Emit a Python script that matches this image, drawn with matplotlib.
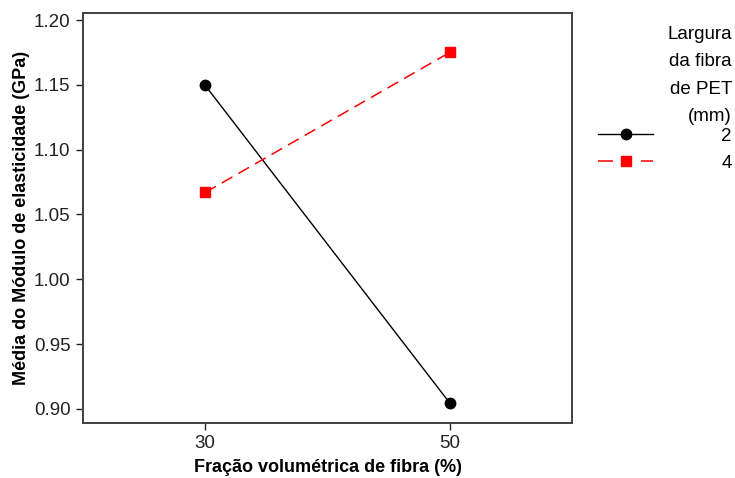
import matplotlib
matplotlib.use("Agg")
import matplotlib.pyplot as plt
from matplotlib.lines import Line2D

plt.rcParams['font.family'] = ['Liberation Sans', 'DejaVu Sans']

# Mean elastic modulus by fibre volume fraction and PET fibre width
fracao = [30, 50]
largura_labels = ["2", "4"]
media_2mm = [1.1495, 0.9046]
media_4mm = [1.0670, 1.1750]
yticks = [0.90, 0.95, 1.00, 1.05, 1.10, 1.15, 1.20]

fig = plt.figure(figsize=(7.35, 4.78), dpi=100)
ax = fig.add_axes([83 / 735, 55 / 478, (572 - 83) / 735, (423 - 13) / 478])

ax.plot(fracao, media_2mm, color="black", lw=1.0, marker="o", ms=7.5,
        label=largura_labels[0])
ax.plot(fracao, media_4mm, color="#ff0000", lw=1.1, marker="s", ms=6.5,
        dashes=(8, 4.5), label=largura_labels[1])

ax.set_xlim(20, 60)
ax.set_ylim(0.8892, 1.2054)
ax.set_xticks(fracao)
ax.set_xticklabels([str(v) for v in fracao])
ax.set_yticks(yticks)
ax.set_yticklabels([f"{v:.2f}" for v in yticks])
ax.tick_params(direction="out", length=5, width=1.0, labelsize=13.5,
               colors="#222222", pad=4)
for s in ax.spines.values():
    s.set_color("#404040")
    s.set_linewidth(1.4)

ax.set_xlabel("Fração volumétrica de fibra (%)", fontsize=13, fontweight="bold",
              labelpad=5)
ax.set_ylabel("Média do Módulo de elasticidade (GPa)", fontsize=13,
              fontweight="bold", labelpad=3)

handles = [
    Line2D([], [], color="black", lw=1.0, marker="o", ms=7.5),
    Line2D([], [], color="#ff0000", lw=1.1, marker="s", ms=6.5, dashes=(9.8, 18.3)),
]
leg = ax.legend(handles, largura_labels, title="Largura\nda fibra\nde PET\n(mm)",
                loc="upper right", bbox_to_anchor=(732 / 735, 1 - 26 / 478),
                bbox_transform=fig.transFigure, frameon=False, fontsize=13.5,
                title_fontsize=13.5, alignment="right", handlelength=2.9,
                handletextpad=3.67, labelspacing=0.52, borderpad=0.0,
                borderaxespad=0.0)
leg.get_title().set_multialignment("right")
leg.get_title().set_linespacing(1.8)
# tighter gap between the title block and the entries
leg._legend_box.sep = 1.8

fig.savefig("out.png", dpi=100)
